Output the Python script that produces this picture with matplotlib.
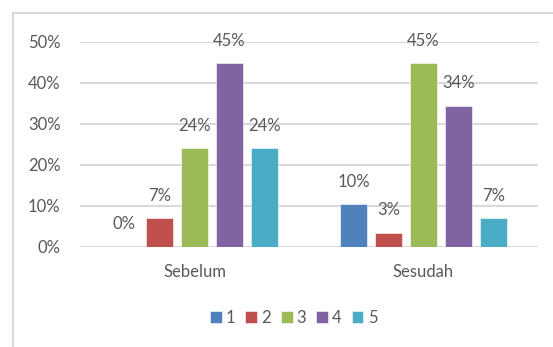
import numpy as np
import matplotlib
matplotlib.use("Agg")
import matplotlib.pyplot as plt
from matplotlib.lines import Line2D

plt.rcParams['font.family'] = ['Lato', 'DejaVu Sans']

categories = ["Sebelum", "Sesudah"]
series_names = ["1", "2", "3", "4", "5"]
# share of respondents per score (n = 29)
sebelum = [0 / 29, 2 / 29, 7 / 29, 13 / 29, 7 / 29]
sesudah = [3 / 29, 1 / 29, 13 / 29, 10 / 29, 2 / 29]
colors = ["#4F81BD", "#C0504D", "#9BBB59", "#8064A2", "#4BACC6"]
y_ticks = [0, 0.1, 0.2, 0.3, 0.4, 0.5]

text_color = "#595959"
grid_color = "#D9D9D9"
fs = 12

fig = plt.figure(figsize=(5.53, 3.47), dpi=100)
ax = fig.add_axes([0.1447, 0.289, 0.9729 - 0.1447, 0.879 - 0.289])

x = np.arange(len(categories))
step = 0.153
width = 0.121
for i, name in enumerate(series_names):
    vals = [sebelum[i], sesudah[i]]
    pos = x + (i - 2) * step
    ax.bar(pos, vals, width, color=colors[i], label=name,
           edgecolor="white", linewidth=0.4, zorder=3)
    for xb, v in zip(pos, vals):
        ax.annotate(f"{v:.0%}", (xb, v), xytext=(0, 16), textcoords="offset points",
                    ha="center", va="center", fontsize=fs, color=text_color)

ax.set_xlim(-0.5, 1.5)
ax.set_ylim(0, 0.5)
ax.set_yticks(y_ticks)
ax.set_yticklabels([f"{t:.0%}" for t in y_ticks])
ax.set_xticks(x)
ax.set_xticklabels(categories)
ax.tick_params(axis="y", length=0, pad=14, labelsize=fs, labelcolor=text_color)
ax.tick_params(axis="x", length=0, pad=12.5, labelsize=fs, labelcolor=text_color)
ax.grid(axis="y", color=grid_color, linewidth=1.5, zorder=0)
ax.set_axisbelow(True)
for s in ax.spines.values():
    s.set_visible(False)

# outer chart frame (only top and left edges fall inside the image)
fig.add_artist(Line2D([13 / 553, 13 / 553], [0, 1 - 13 / 347],
                      transform=fig.transFigure, color=grid_color, linewidth=1.5))
fig.add_artist(Line2D([13 / 553, 1], [1 - 13 / 347, 1 - 13 / 347],
                      transform=fig.transFigure, color=grid_color, linewidth=1.5))

fig.legend(loc="center", bbox_to_anchor=(0.531, 0.0836), ncol=5, frameon=False,
           handlelength=0.7, handleheight=0.7, handletextpad=0.25,
           columnspacing=0.6, fontsize=fs, labelcolor=text_color, borderpad=0)

fig.savefig("out.png", dpi=100)
